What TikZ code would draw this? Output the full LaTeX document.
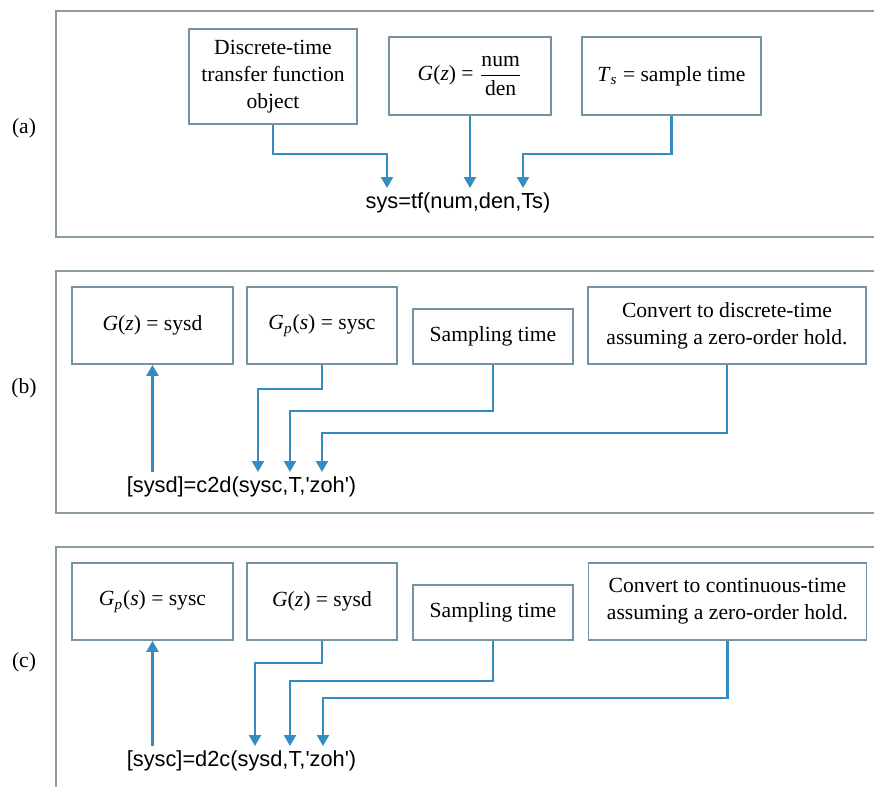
\documentclass[tikz,border=0pt]{standalone}
\usepackage{fontspec}
\setmainfont{Liberation Serif}
\setsansfont{Liberation Sans}
\usepackage{amsmath}
\usetikzlibrary{arrows.meta, calc}

\definecolor{boxline}{HTML}{7893A0}
\definecolor{panelline}{HTML}{8A9AA3}
\definecolor{flow}{HTML}{338CC2}

\begin{document}
\begin{tikzpicture}[
                x=0.5pt, y=0.5pt,
                >={Triangle[width=6pt,length=5.5pt]},
                font=\fontsize{10.8}{13.5}\selectfont,
                block/.style={rectangle, draw=boxline, line width=0.9pt, fill=white, align=center, inner sep=2pt},
                matlab/.style={font=\sffamily\fontsize{10.9}{13}\selectfont, inner sep=2pt, anchor=north},
                panellabel/.style={font=\fontsize{10.8}{13}\selectfont},
                panel/.style={draw=panelline, line width=0.8pt},
                arrow/.style={->, flow, line width=1.2pt},
            ]
            \useasboundingbox (0,0) rectangle (874,-787);

            % --- panel (a) --------------------------------------------------
            \draw[panel] (874,-11) -- (56,-11) -- (56,-237) -- (874,-237);
            \node[panellabel] (lab_a) at (24,-128) {(a)};

            \node[block, minimum width=84pt, minimum height=47.5pt] (a_obj) at (273,-76.5)
            {Discrete-time\\transfer function\\object};
            \node[block, minimum width=81pt, minimum height=39pt] (a_num) at (470,-76)
            {\textit{G}(\textit{z}) = $\dfrac{\text{num}}{\text{den}}$};
            \node[block, minimum width=89.5pt, minimum height=39pt] (a_ts) at (671.5,-76)
            {\textit{T}\textsubscript{\textit{s}} = sample time};
            \node[matlab] (a_cmd) at (458,-188) {sys=tf(num,den,Ts)};

            \draw[arrow] (a_obj.south) -- ++(0,-29) -| ($(a_cmd.north)+(-71,0)$);
            \draw[arrow] (a_num.south) -- (a_num.south |- a_cmd.north);
            \draw[arrow] (a_ts.south) -- ++(0,-38) -| ($(a_cmd.north)+(65,0)$);

            % --- panel (b) --------------------------------------------------
            \draw[panel] (874,-271) -- (56,-271) -- (56,-513) -- (874,-513);
            \node[panellabel] (lab_b) at (24,-388) {(b)};

            \node[block, minimum width=80.5pt, minimum height=38.5pt] (b_sysd) at (152.5,-325.5)
            {\textit{G}(\textit{z}) = sysd};
            \node[block, minimum width=75pt, minimum height=38.5pt] (b_sysc) at (322,-325.5)
            {\textit{G}\textsubscript{\textit{p}}(\textit{s}) = sysc};
            \node[block, minimum width=80pt, minimum height=27.5pt] (b_samp) at (493,-336.5)
            {Sampling time};
            \node[block, minimum width=139pt, minimum height=38.5pt] (b_conv) at (727,-325.5)
            {Convert to discrete-time\\assuming a zero-order hold.};
            \node[matlab] (b_cmd) at (241.5,-472) {[sysd]=c2d(sysc,T,\textquotesingle zoh\textquotesingle)};

            \draw[arrow] (b_sysd.south |- b_cmd.north) -- (b_sysd.south);
            \draw[arrow] (b_sysc.south) -- ++(0,-24) -| ($(b_cmd.north)+(16.5,0)$);
            \draw[arrow] (b_samp.south) -- ++(0,-46) -| ($(b_cmd.north)+(48.5,0)$);
            \draw[arrow] (b_conv.south) -- ++(0,-68) -| ($(b_cmd.north)+(80.5,0)$);

            % --- panel (c) --------------------------------------------------
            \draw[panel] (874,-547) -- (56,-547) -- (56,-787);
            \node[panellabel] (lab_c) at (24,-662) {(c)};

            \node[block, minimum width=80.5pt, minimum height=38.5pt] (c_sysc) at (152.5,-601.5)
            {\textit{G}\textsubscript{\textit{p}}(\textit{s}) = sysc};
            \node[block, minimum width=75pt, minimum height=38.5pt] (c_sysd) at (322,-601.5)
            {\textit{G}(\textit{z}) = sysd};
            \node[block, minimum width=80pt, minimum height=27.5pt] (c_samp) at (493,-612.5)
            {Sampling time};
            \node[block, minimum width=139pt, minimum height=38.5pt] (c_conv) at (727.5,-601.5)
            {Convert to continuous-time\\assuming a zero-order hold.};
            \node[matlab] (c_cmd) at (241.5,-746) {[sysc]=d2c(sysd,T,\textquotesingle zoh\textquotesingle)};

            \draw[arrow] (c_sysc.south |- c_cmd.north) -- (c_sysc.south);
            \draw[arrow] (c_sysd.south) -- ++(0,-22) -| ($(c_cmd.north)+(13.5,0)$);
            \draw[arrow] (c_samp.south) -- ++(0,-40) -| ($(c_cmd.north)+(48.5,0)$);
            \draw[arrow] (c_conv.south) -- ++(0,-57) -| ($(c_cmd.north)+(81.5,0)$);
        \end{tikzpicture}
\end{document}
